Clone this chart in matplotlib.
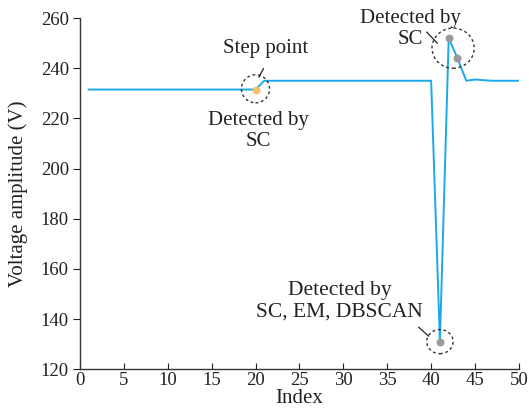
import numpy as np
import matplotlib.pyplot as plt
from matplotlib.patches import Ellipse

# data
index = np.arange(1, 51)
voltage = np.array([231.5] * 20 + [235.0] * 20 +
                   [131.0, 252.0, 244.0, 235.0, 235.5, 235.2, 235.0, 235.0, 235.0, 235.0])
step_idx = [20]
sc_idx = [42, 43]
all_idx = [41]

plt.rcParams['font.family'] = ['Liberation Serif', 'DejaVu Serif']

fig = plt.figure(figsize=(5.29, 4.2), dpi=100)
ax = fig.add_axes([0.151, 0.121, 0.830, 0.836])

ax.plot(index, voltage, color='#1aa9ea', lw=1.4, zorder=2)
ax.scatter(index[np.array(step_idx) - 1], voltage[np.array(step_idx) - 1],
           s=22, color='#f7c060', zorder=3)
ax.scatter(index[np.array(sc_idx) - 1], voltage[np.array(sc_idx) - 1],
           s=22, color='#9a9a9a', zorder=3)
ax.scatter(index[np.array(all_idx) - 1], voltage[np.array(all_idx) - 1],
           s=22, color='#9a9a9a', zorder=3)

# dashed rings round the detected points
for (cx, cy, w, h) in [(20.0, 231.8, 3.2, 11.2), (42.5, 248.0, 4.8, 16.0), (41.0, 131.0, 3.0, 9.6)]:
    ax.add_patch(Ellipse((cx, cy), w, h, fill=False, ls=(0, (2, 2)), lw=1.0,
                         ec='#333333', zorder=4))

# leader lines
for (x0, y0, x1, y1) in [(20.4, 236.5, 20.9, 239.8), (39.5, 254.4, 40.7, 250.0), (38.6, 136.7, 39.7, 133.2)]:
    ax.plot([x0, x1], [y0, y1], color='#222222', lw=0.9, zorder=4)

fs = 15
ls = 1.18
ax.text(21.1, 248.0, 'Step point', ha='center', va='center', fontsize=fs, color='#222222')
ax.text(20.3, 215.0, 'Detected by\nSC', ha='center', va='center', fontsize=fs,
        color='#222222', linespacing=ls)
ax.text(37.6, 255.6, 'Detected by\nSC', ha='center', va='center', fontsize=fs,
        color='#222222', linespacing=ls)
ax.text(29.6, 147.0, 'Detected by\nSC, EM, DBSCAN', ha='center', va='center', fontsize=15.5,
        color='#222222', linespacing=ls)

ax.set_xlim(0, 50)
ax.set_ylim(120, 260)
ax.set_xticks(np.arange(0, 51, 5))
ax.set_yticks(np.arange(120, 261, 20))
ax.spines['top'].set_visible(False)
ax.spines['right'].set_visible(False)
for s in ['left', 'bottom']:
    ax.spines[s].set_color('#333333')
    ax.spines[s].set_linewidth(1.0)
ax.tick_params(axis='x', direction='in', length=4, labelsize=13.5, pad=2, colors='#222222')
ax.tick_params(axis='y', direction='out', length=5, labelsize=13.5, pad=3, colors='#222222')
ax.set_xlabel('Index', fontsize=15, labelpad=0, color='#222222')
ax.set_ylabel('Voltage amplitude (V)', fontsize=15, labelpad=9, color='#222222')

fig.savefig('out.png', dpi=100)
